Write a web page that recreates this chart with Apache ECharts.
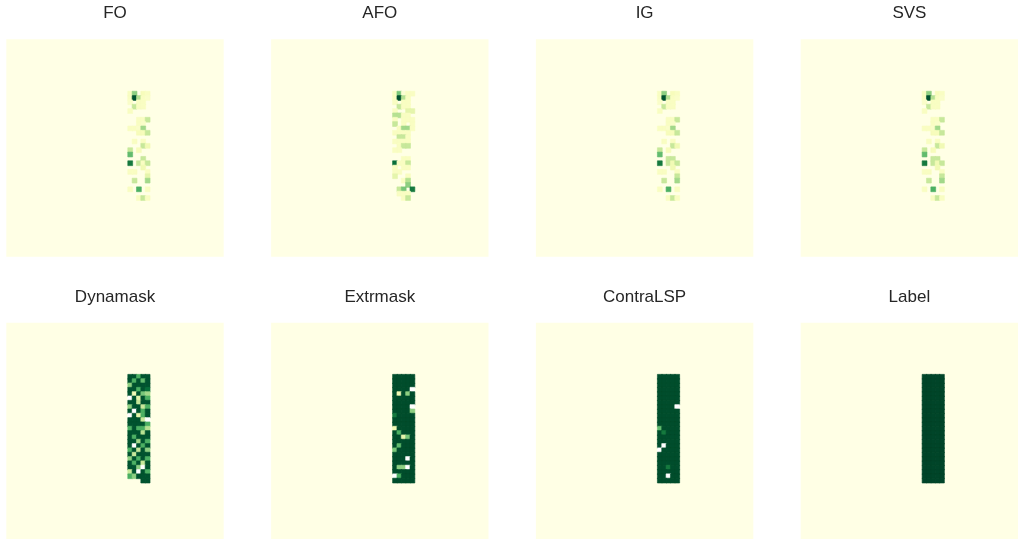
<!DOCTYPE html>
<html><head><meta charset="utf-8">
<script src="https://cdn.jsdelivr.net/npm/echarts/dist/echarts.min.js"></script>
<style>html,body{margin:0;padding:0;background:#fff}#c{width:1018px;height:539px}</style>
</head><body><div id="c"></div>
<script>
// ---- data ----
const titles = ['FO', 'AFO', 'IG', 'SVS', 'Dynamask', 'Extrmask', 'ContraLSP', 'Label'];
const gridCells = 50;      // 50 x 50 grid (time x feature)
const rowStart = 12;       // first salient row
const colStart = 28;       // first salient column
const W = -1;              // white (masked) cell

const FO = [
  [0.1,0.45,0,0.12,0.1],[0.1,0.95,0.35,0.1,0.08],[0.08,0,0.1,0.1,0],[0,0.3,0.1,0.1,0],[0.1,0,0,0,0],
  [0,0,0,0,0],[0,0,0.1,0.1,0.3],[0,0,0.1,0.08,0],[0.1,0.1,0.08,0.4,0],[0,0,0.12,0.12,0.3],
  [0,0,0,0,0],[0,0.1,0,0.1,0],[0,0,0,0.3,0.15],[0.3,0,0.12,0,0],[0.55,0,0,0,0],
  [0,0,0,0.3,0],[0.8,0,0.3,0.1,0.3],[0,0,0,0.15,0],[0.1,0.1,0,0,0.1],[0,0,0,0,0.2],
  [0,0.3,0,0,0.4],[0,0,0,0,0],[0.1,0,0.6,0,0.1],[0,0,0,0,0],[0,0,0.1,0.3,0.1]
];
const AFO = [
  [0.1,0.5,0.05,0.1,0.1],[0.1,0.95,0.35,0.1,0],[0.1,0,0.1,0.1,0],[0,0.3,0.1,0.1,0],[0.1,0,0,0.2,0.2],
  [0.35,0.35,0.1,0.1,0],[0.1,0,0.1,0.1,0.1],[0.3,0,0.1,0,0.1],[0,0.1,0.4,0.4,0.1],[0.1,0.1,0.1,0.1,0],
  [0,0.3,0.3,0.1,0],[0.1,0.1,0.1,0.1,0],[0,0.1,0.3,0.3,0],[0.1,0.1,0,0,0],[0,0,0,0,0],
  [0,0,0.1,0.1,0],[0.85,0.1,0.1,0.3,0],[0.1,0,0.1,0.1,0],[0.1,0.1,0,0,0],[0.2,0,0,0.1,0],
  [0,0,0.1,0.35,0],[0,0,0,0.45,0],[0,0.3,0.5,0,0.8],[0,0.1,0.1,0.1,0],[0,0,0.1,0.3,0]
];
const IG = [
  [0.1,0.45,0,0.12,0.1],[0.1,0.95,0.35,0.1,0.08],[0.08,0,0.1,0.1,0],[0,0.3,0.1,0.1,0],[0.1,0,0,0,0],
  [0,0,0,0,0],[0,0,0.1,0.1,0.3],[0,0,0.1,0.08,0],[0.1,0.1,0.08,0.4,0],[0,0,0.12,0.12,0.3],
  [0,0,0,0,0],[0,0.1,0,0.1,0],[0,0,0,0.3,0.15],[0.3,0,0.12,0,0],[0.55,0,0,0,0],
  [0,0,0.3,0.3,0],[0.8,0,0.3,0.15,0.3],[0,0,0,0.15,0],[0.1,0.1,0,0,0.1],[0,0,0,0,0.3],
  [0,0.3,0,0,0.4],[0,0,0,0,0],[0.1,0,0.6,0,0.1],[0,0,0,0,0],[0,0,0.1,0.3,0.1]
];
const SVS = [
  [0.1,0.45,0,0.12,0.1],[0.1,0.95,0.35,0.1,0.08],[0.08,0,0.1,0.1,0],[0,0.3,0.1,0.1,0],[0.1,0,0,0,0],
  [0,0,0,0,0],[0,0,0.1,0.1,0.3],[0,0,0.1,0.08,0],[0.1,0.1,0.08,0.4,0],[0,0,0.12,0.12,0.3],
  [0,0,0,0,0],[0,0.1,0,0.1,0],[0,0,0,0.3,0.15],[0.3,0,0.12,0,0],[0.55,0,0,0,0],
  [0,0,0.3,0.3,0],[0.8,0,0.3,0.15,0.3],[0,0,0,0.15,0],[0.1,0.1,0,0,0.1],[0,0,0,0,0.3],
  [0,0.3,0,0,0.4],[0,0,0,0,0],[0.1,0,0.6,0,0.1],[0,0,0,0,0],[0,0,0.1,0.3,0.1]
];
const Dynamask = [
  [0.95,0.95,0.6,0.95,0.95],[0.95,0.6,0.95,0.55,0.95],[0.45,0.95,0.95,0.95,0.95],[0.95,0.95,0.6,0.95,0.85],[0.95,0.15,0.95,0.5,0.4],
  [W,0.95,0.2,0.95,0.6],[0.95,0.95,0.3,0.95,0.95],[0.45,0.95,0.95,0.3,0.6],[0.95,W,0.95,0.6,0.95],[W,0.95,0.2,0.6,0.95],
  [0.95,0.95,0.95,0.3,W],[0.95,0.95,0.95,0.95,0.6],[0.6,0.95,0.6,0.6,0.35],[0.95,0.95,0.95,0.35,0.95],[0.95,0.6,0.95,0.95,0.95],
  [0.95,0.95,0.4,0.95,0.6],[0.95,W,0.95,0.6,0.95],[0.6,0.95,0.3,0.95,0.45],[0.95,0.3,0.95,0.95,0.95],[0.45,0.95,0.6,0.95,0.6],
  [0.95,0.6,0.95,0.3,0.95],[0.95,0.95,0.45,W,0.95],[0.3,0.95,W,0.95,0.6],[0.6,0.45,0.95,0.95,0.95],[0,0,0,0.95,0.95]
];
const Extrmask = [
  [0.97,0.97,0.97,0.97,0.97],[0.97,0.97,0.97,0.97,0.97],[0.97,0.97,0.97,0.97,0.97],[0.97,0.97,0.97,0.97,W],[0.97,0.15,0.97,0.45,0.97],
  [0.97,0.97,0.97,0.97,0.97],[0.97,0.97,0.97,0.97,0.97],[0.97,0.97,0.97,0.97,W],[0.97,0.97,0.97,0.97,0.45],[0.8,0.97,0.97,0.97,0.97],
  [0.97,0.97,0.97,0.97,0.97],[0.97,0.97,0.97,0.97,0.97],[0.15,0.97,0.97,0.97,0.97],[0.97,0.6,0.97,0.97,0.97],[0.97,0.97,0.2,0.5,0.97],
  [0.97,0.97,0.97,0.97,0.97],[0.97,0.55,0.97,0.97,0.97],[0.5,0.97,0.97,0.97,0.97],[0.97,0.97,0.97,0.97,0.97],[0.97,0.97,0.97,W,0.97],
  [0.97,0.97,0.97,0.97,0.97],[0.97,0.45,0.45,W,0.97],[0.97,0.97,0.97,0.97,0.97],[W,0.6,0.97,0.97,0.97],[0.97,0.97,0.97,0.97,0.97]
];
const ContraLSP = [
  [0.97,0.97,0.97,0.97,0.97],[0.97,0.97,0.97,0.97,0.97],[0.97,0.97,0.97,0.97,0.97],[0.97,0.97,0.97,0.97,0.97],[0.97,0.97,0.97,0.97,0.97],
  [0.97,0.97,0.97,0.97,0.97],[0.97,0.97,0.97,0.97,0.97],[0.97,0.97,0.97,0.97,W],[0.97,0.97,0.97,0.97,0.97],[0.97,0.97,0.97,0.97,0.97],
  [0.97,0.97,0.97,0.97,0.97],[0.97,0.97,0.97,0.97,0.97],[0.55,0.97,0.97,0.97,0.97],[0.97,0.8,0.97,0.97,0.97],[0.97,0.97,0.97,0.97,0.97],
  [0.97,0.97,0.97,0.97,0.97],[0.97,W,0.97,0.97,0.97],[W,0.97,0.97,0.97,0.97],[0.97,0.97,0.97,0.97,0.97],[0.97,0.97,0.97,0.97,0.97],
  [0.97,0.97,0.97,0.97,0.97],[0.97,0.97,0.8,0.97,0.97],[0.97,0.97,0.97,0.97,0.97],[0.97,0.97,W,0.97,0.97],[0.97,0.97,0.97,0.97,0.97]
];
const Label = [
  [1,1,1,1,1],[1,1,1,1,1],[1,1,1,1,1],[1,1,1,1,1],[1,1,1,1,1],
  [1,1,1,1,1],[1,1,1,1,1],[1,1,1,1,1],[1,1,1,1,1],[1,1,1,1,1],
  [1,1,1,1,1],[1,1,1,1,1],[1,1,1,1,1],[1,1,1,1,1],[1,1,1,1,1],
  [1,1,1,1,1],[1,1,1,1,1],[1,1,1,1,1],[1,1,1,1,1],[1,1,1,1,1],
  [1,1,1,1,1],[1,1,1,1,1],[1,1,1,1,1],[1,1,1,1,1],[1,1,1,1,1]
];
const matrices = [FO, AFO, IG, SVS, Dynamask, Extrmask, ContraLSP, Label];

// ---- layout / style ----
const YlGn = ['#ffffe5','#f7fcb9','#d9f0a3','#addd8e','#78c679','#41ab5d','#238443','#006837','#004529'];
const panelLefts = [6.3, 271.1, 535.9, 800.7];
const panelTops = [39.3, 322.7];
const panelSize = 217.4;
const titleTops = [5, 289];

function cellColor(v) {
  if (v < 0) return '#ffffff';
  return echarts.color.lerp(Math.max(0, Math.min(1, v)), YlGn);
}

const axisCells = [];
for (let i = 0; i < gridCells; i++) axisCells.push(i);

const grid = [], xAxis = [], yAxis = [], series = [], title = [];
matrices.forEach((m, k) => {
  const col = k % 4, row = Math.floor(k / 4);
  grid.push({left: panelLefts[col], top: panelTops[row], width: panelSize, height: panelSize,
    show: true, backgroundColor: YlGn[0], borderWidth: 0, containLabel: false});
  xAxis.push({type: 'category', gridIndex: k, data: axisCells, show: false});
  yAxis.push({type: 'category', gridIndex: k, data: axisCells, show: false, inverse: true});
  const data = [];
  m.forEach((r, i) => r.forEach((v, j) => {
    if (v === 0) return; // same colour as the panel background
    const c = cellColor(v);
    data.push({value: [colStart + j, rowStart + i, v],
      itemStyle: {color: c, borderColor: c, borderWidth: 0.6}});
  }));
  series.push({type: 'heatmap', xAxisIndex: k, yAxisIndex: k, data: data, emphasis: {disabled: true}});
  title.push({text: titles[k], left: panelLefts[col] + panelSize / 2, top: titleTops[row], padding: 0,
    textAlign: 'center',
    textStyle: {fontSize: 17, fontWeight: 'normal', color: '#262626', fontFamily: 'Liberation Sans, Arial, sans-serif'}});
});

const chart = echarts.init(document.getElementById('c'), null, {renderer: 'canvas'});
chart.setOption({
  animation: false,
  backgroundColor: '#ffffff',
  title: title,
  grid: grid, xAxis: xAxis, yAxis: yAxis,
  series: series
});
</script>
</body></html>
